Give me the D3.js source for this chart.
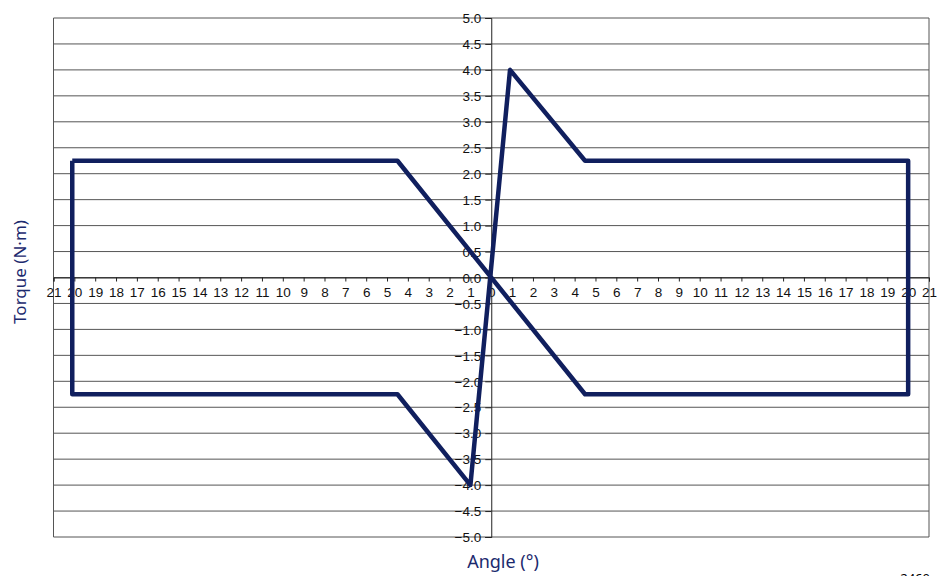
<!DOCTYPE html>
<html>
<head>
<meta charset="utf-8">
<script src="https://cdn.jsdelivr.net/npm/d3@7"></script>
<style>
  body { margin: 0; background: #fff; }
  svg { font-family: "Noto Sans", "Open Sans", sans-serif; }
  .grid line { stroke: #555; stroke-width: 1; }
  .tick text { font-size: 13.5px; fill: #111; }
  .title { font-size: 17px; fill: #1c2a6e; }
</style>
</head>
<body>
<script>
// ----- data: hysteresis loop (angle in degrees, torque in N.m) -----
const angles  = [-20.1, -4.5, 4.5, 20, 20, 4.5, 0.9, -1.0, -4.5, -20.1, -20.1];
const torques = [2.25, 2.25, -2.25, -2.25, 2.25, 2.25, 4.0, -4.0, -2.25, -2.25, 2.25];
const xTicks = d3.range(-21, 22);           // -21 .. 21
const yTicks = d3.range(-10, 11).map(d => d / 2);  // -5.0 .. 5.0

const W = 937, H = 576;
const plotLeft = 53.5, plotRight = 929, plotTop = 18, plotBottom = 537;
const lineColor = '#101f5e';

const svg = d3.select('body').append('svg')
  .attr('width', W)
  .attr('height', H);

const x = d3.scaleLinear().domain([-21, 21]).range([plotLeft, plotRight]);
const y = d3.scaleLinear().domain([-5, 5]).range([plotBottom, plotTop]);

// horizontal grid lines
svg.append('g').attr('class', 'grid')
  .selectAll('line')
  .data(yTicks)
  .enter().append('line')
    .attr('x1', plotLeft).attr('x2', plotRight)
    .attr('y1', d => y(d)).attr('y2', d => y(d));

// left / right borders
svg.append('g').attr('class', 'grid')
  .selectAll('line')
  .data([-21, 21])
  .enter().append('line')
    .attr('x1', d => x(d)).attr('x2', d => x(d))
    .attr('y1', plotTop).attr('y2', plotBottom);

// x axis through zero, labels as absolute degrees
const xAxis = svg.append('g')
  .attr('transform', 'translate(0,' + y(0) + ')')
  .call(d3.axisBottom(x).tickValues(xTicks).tickSize(4).tickPadding(6)
    .tickFormat(d => Math.abs(d)));
xAxis.select('.domain').attr('stroke', '#222');
xAxis.selectAll('.tick line').attr('stroke', '#222');

// y axis through zero
const yAxis = svg.append('g')
  .attr('transform', 'translate(' + x(0) + ',0)')
  .call(d3.axisLeft(y).tickValues(yTicks).tickSize(6).tickPadding(4)
    .tickFormat(d3.format('.1f')));
yAxis.select('.domain').attr('stroke', '#222');
yAxis.selectAll('.tick line').attr('stroke', '#222');
yAxis.selectAll('.tick text').attr('dy', '0.35em');

// torque curve
const pts = angles.map((a, i) => [a, torques[i]]);
svg.append('path')
  .datum(pts)
  .attr('fill', 'none')
  .attr('stroke', lineColor)
  .attr('stroke-width', 4.5)
  .attr('stroke-linejoin', 'round')
  .attr('d', d3.line().x(d => x(d[0])).y(d => y(d[1])));

// axis titles
svg.append('text')
  .attr('class', 'title')
  .style('font-size', '18px')
  .attr('x', 503).attr('y', 568)
  .attr('text-anchor', 'middle')
  .text('Angle (°)');

svg.append('text')
  .attr('class', 'title')
  .attr('transform', 'translate(26,272) rotate(-90)')
  .attr('text-anchor', 'middle')
  .text('Torque (N·m)');

// figure number
svg.append('text')
  .attr('x', 930).attr('y', 583)
  .attr('text-anchor', 'end')
  .style('font-size', '13px')
  .text('2460');
</script>
</body>
</html>
